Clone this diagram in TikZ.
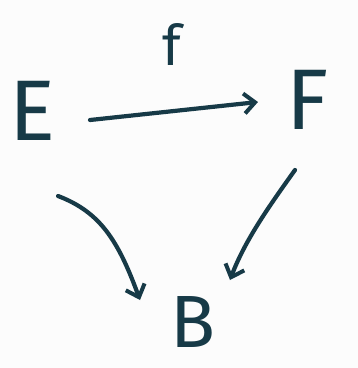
\documentclass[tikz,border=0pt]{standalone}
\usepackage{fontspec}
\setsansfont{Fira Sans}
\usetikzlibrary{arrows.meta}
\definecolor{ink}{HTML}{173A47}
\definecolor{paper}{HTML}{FCFCFC}
\tikzset{
  obj/.style={text=ink, font=\sffamily\fontsize{86}{86}\selectfont, inner sep=0pt, anchor=center},
  lbl/.style={text=ink, font=\sffamily\fontsize{56}{56}\selectfont, inner sep=0pt, anchor=center},
  mor/.style={draw=ink, line width=4.2pt, line cap=round, -{Straight Barb[length=11pt,width=20pt,line width=4pt]}}
}
\begin{document}
\begin{tikzpicture}[x=1pt,y=-1pt]
\fill[paper] (0,0) rectangle (358,368);
\useasboundingbox (0,0) rectangle (358,368);
\node[obj] (E) at (33,111) {E};
\node[obj] (F) at (308,100) {F};
\node[obj, font=\sffamily\fontsize{74}{74}\selectfont] (B) at (193,322) {B};
\node[lbl] (f) at (172,44) {f};
\coordinate (e1) at (90,120);
\coordinate (f1) at (258,102);
\coordinate (e2) at (58,196);
\coordinate (b1) at (140,300);
\coordinate (f2) at (295,170);
\coordinate (b2) at (230,280);
\draw[mor] (e1) -- (f1);
\draw[mor] (e2) .. controls (100,212) and (118,240) .. (b1);
\draw[mor] (f2) .. controls (270,205) and (245,240) .. (b2);
\end{tikzpicture}
\end{document}
